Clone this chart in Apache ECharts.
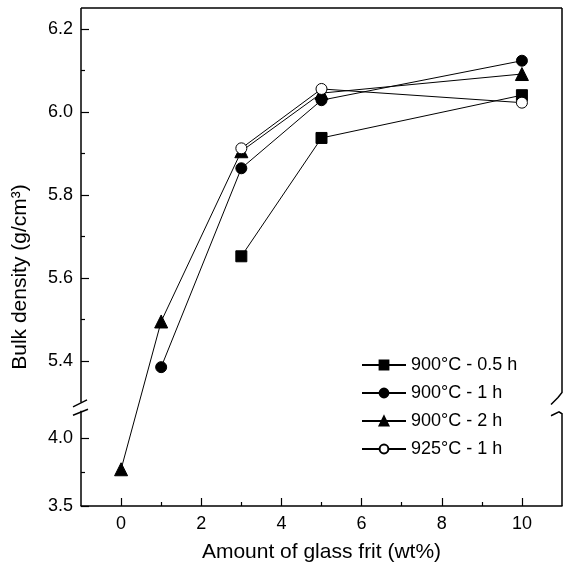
<!DOCTYPE html>
<html>
<head>
<meta charset="utf-8">
<script src="https://cdn.jsdelivr.net/npm/echarts@6/dist/echarts.min.js"></script>
<style>
  html, body { margin: 0; padding: 0; background: #fff; }
  #chart { width: 563px; height: 572px; }
</style>
</head>
<body>
<div id="chart"></div>
<script>
// values
var seriesNames = ['900°C - 0.5 h', '900°C - 1 h', '900°C - 2 h', '925°C - 1 h'];
var xRect = [3, 5, 10];
var yRect = [5.652, 5.937, 6.04];
var xDot = [1, 3, 5, 10];
var yDot = [5.385, 5.864, 6.028, 6.123];
var xTri = [0, 1, 3, 5, 10];
var yTri = [3.77, 5.495, 5.905, 6.045, 6.091];
var xOpen = [3, 5, 10];
var yOpen = [5.912, 6.055, 6.022];

var xTicks = [0, 2, 4, 6, 8, 10];
var xMinor = [1, 3, 5, 7, 9];
var yTicks = [3.5, 4.0, 5.4, 5.6, 5.8, 6.0, 6.2];
var yMinor = [3.75, 5.5, 5.7, 5.9, 6.1];

// broken y axis: upper part 5.3..6.25, lower part 3.5..4.2 squeezed
var UP_LO = 5.3, UP_HI = 6.25, LO_LO = 3.5, LO_HI = 4.2;
var LO_K = 136 / 415, GAP = 0.02;
function T(v) { return v >= 5 ? v : UP_LO - GAP - (LO_HI - v) * LO_K; }
function invT(t) { return t >= UP_LO - GAP / 2 ? t : LO_HI - (UP_LO - GAP - t) / LO_K; }
function pts(xs, ys) { return xs.map(function (x, i) { return [x, T(ys[i])]; }); }

var FONT = "'Liberation Sans', Arial, sans-serif";
var chart = echarts.init(document.getElementById('chart'));

function mk(name, symbol, data, fill) {
  return {
    name: name, type: 'line', data: data,
    symbol: symbol, symbolSize: symbol === 'triangle' ? 13 : 11,
    color: '#000',
    lineStyle: { color: '#000', width: 1 },
    itemStyle: { color: fill, borderColor: '#000', borderWidth: 1 },
    emphasis: { disabled: true }
  };
}

var option = {
  animation: false,
  backgroundColor: '#fff',
  textStyle: { fontFamily: FONT, color: '#000' },
  grid: { left: 81, top: 8, right: 1, bottom: 66, show: false },
  legend: {
    orient: 'vertical', left: 356, top: 351,
    itemWidth: 44, itemHeight: 11, itemGap: 10,
    textStyle: { fontFamily: FONT, fontSize: 18, color: '#000' },
    data: seriesNames
  },
  xAxis: [{
    type: 'value', min: -1, max: 11,
    name: 'Amount of glass frit (wt%)', nameLocation: 'middle', nameGap: 36,
    nameTextStyle: { fontFamily: FONT, fontSize: 21, color: '#000' },
    axisLine: { onZero: false, lineStyle: { color: '#000', width: 1.5 } },
    axisTick: { inside: true, length: 8, customValues: xTicks, lineStyle: { color: '#000', width: 1.2 } },
    axisLabel: { customValues: xTicks, margin: 9, fontSize: 18, fontFamily: FONT, color: '#000' },
    splitLine: { show: false }
  }, {
    type: 'value', min: -1, max: 11, position: 'bottom',
    axisLine: { show: false, onZero: false },
    axisTick: { inside: true, length: 4, customValues: xMinor, lineStyle: { color: '#000', width: 1.2 } },
    axisLabel: { show: false },
    splitLine: { show: false }
  }],
  yAxis: [{
    type: 'value', min: T(LO_LO), max: T(UP_HI), position: 'left',
    name: 'Bulk density (g/cm³)', nameLocation: 'middle', nameGap: 50,
    nameTextStyle: { fontFamily: FONT, fontSize: 21, color: '#000', padding: [0, 40, 0, 0] },
    axisLine: { show: false, onZero: false },
    axisTick: { inside: true, length: 8, customValues: yTicks.map(T), lineStyle: { color: '#000', width: 1.2 } },
    axisLabel: {
      customValues: yTicks.map(T), margin: 8, fontSize: 18, fontFamily: FONT, color: '#000',
      formatter: function (v) { return invT(v).toFixed(1); }
    },
    splitLine: { show: false }
  }, {
    type: 'value', min: T(LO_LO), max: T(UP_HI), position: 'left',
    axisLine: { show: false, onZero: false },
    axisTick: { inside: true, length: 4, customValues: yMinor.map(T), lineStyle: { color: '#000', width: 1.2 } },
    axisLabel: { show: false },
    splitLine: { show: false }
  }],
  series: [
    mk(seriesNames[0], 'rect', pts(xRect, yRect), '#000'),
    mk(seriesNames[1], 'circle', pts(xDot, yDot), '#000'),
    mk(seriesNames[2], 'triangle', pts(xTri, yTri), '#000'),
    mk(seriesNames[3], 'circle', pts(xOpen, yOpen), '#fff')
  ]
};
chart.setOption(option);

// frame with the axis break drawn from the scale
var px = function (x) { return chart.convertToPixel({ xAxisIndex: 0 }, x); };
var py = function (y) { return chart.convertToPixel({ yAxisIndex: 0 }, T(y)); };
var xL = px(-1), xR = px(11);
var yTop = py(UP_HI), yBot = py(LO_LO), yBU = py(UP_LO), yBL = py(LO_HI);
var st = { stroke: '#000', lineWidth: 1.5, fill: null };
function pl(points) { return { type: 'polyline', silent: true, shape: { points: points }, style: st }; }
chart.setOption({
  graphic: [
    pl([[xL, yTop], [xR, yTop]]),
    pl([[xL, yTop], [xL, yBU]]),
    pl([[xL, yBL], [xL, yBot]]),
    pl([[xL - 8, yBU + 4.5], [xL + 6, yBU - 2.5]]),
    pl([[xL - 8, yBL + 4.5], [xL + 7, yBL - 1.5]]),
    pl([[xR, yTop], [xR, yBU - 10], [xR - 4, yBU - 5], [xR - 11, yBU + 2]]),
    pl([[xR - 11, yBL + 5], [xR - 3, yBL + 1], [xR, yBL + 3], [xR, yBot]])
  ]
});
</script>
</body>
</html>
